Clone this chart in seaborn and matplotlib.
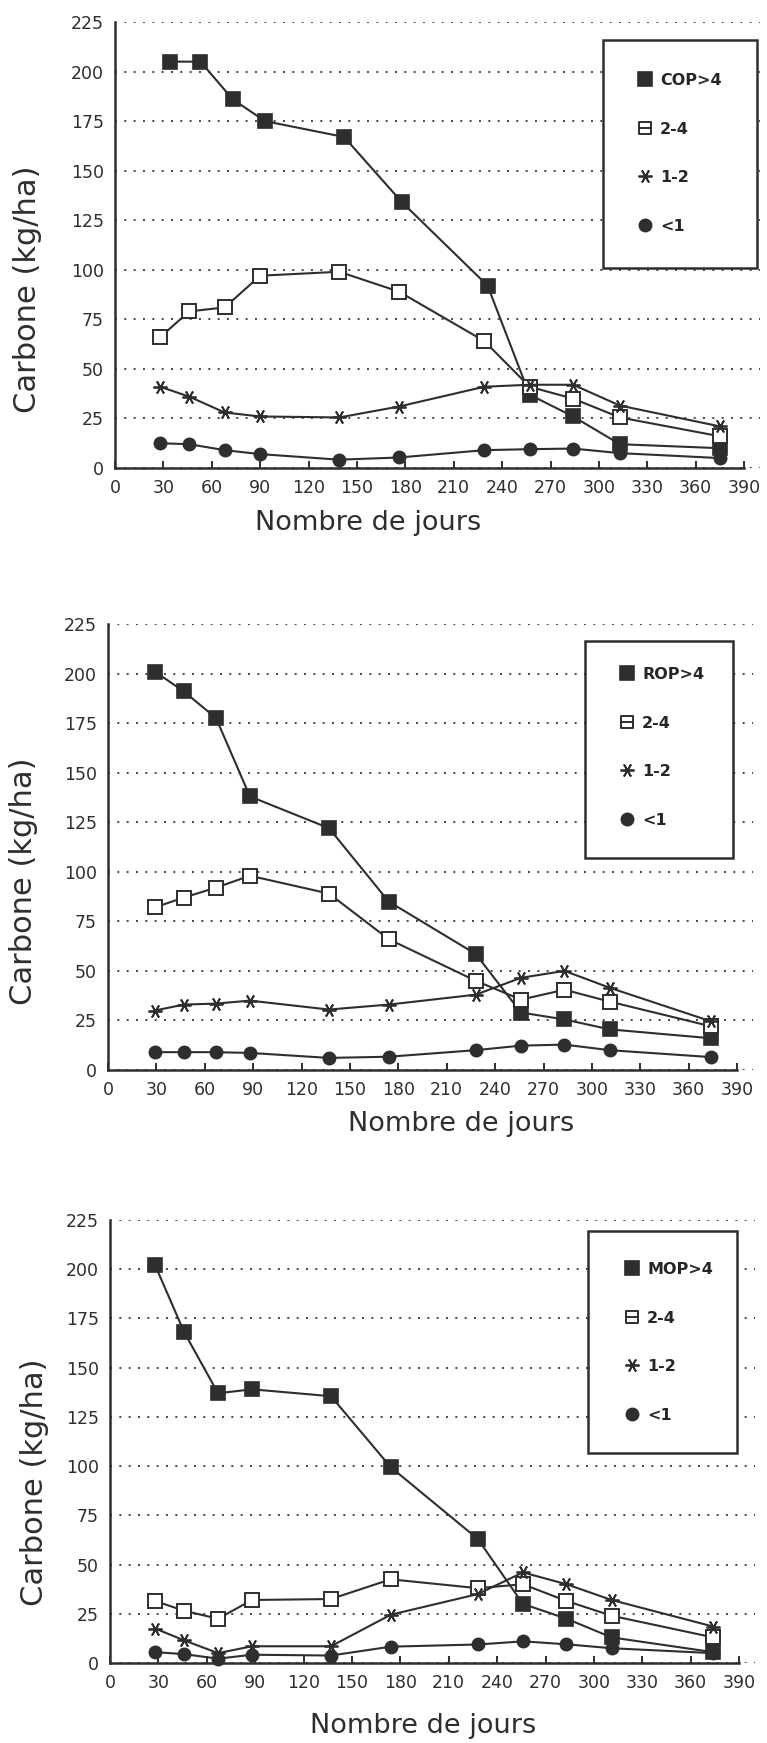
import matplotlib
matplotlib.use("Agg")
import matplotlib.pyplot as plt
import seaborn as sns
from matplotlib.lines import Line2D
from matplotlib.path import Path
from matplotlib.patches import Rectangle

# ---- data: carbon (kg/ha) by aggregate size class vs. number of days ----
days_cop = [28, 46, 68, 90, 139, 176, 229, 257, 284, 313, 375]
days_cop_gt4 = [34, 53, 73, 93, 142, 178, 231, 257, 284, 313, 375]
cop_gt4 = [205, 205, 186, 175, 167, 134, 92, 37, 26, 12, 10]
cop_2_4 = [66, 79, 81, 97, 99, 89, 64, 41, 35, 25.5, 16]
cop_1_2 = [41, 36, 28, 26, 25.5, 31, 41, 42, 42, 31.5, 21]
cop_lt1 = [12.5, 12, 9, 7, 4.2, 5.3, 9, 9.5, 9.8, 7.5, 5]

days_rop = [29, 47, 67, 88, 137, 174, 228, 256, 283, 311, 374]
rop_gt4 = [201, 191, 177.5, 138, 122, 85, 58.5, 29, 25.5, 20.5, 16]
rop_2_4 = [82, 87, 92, 98, 89, 66, 45, 35.5, 40.5, 34.5, 22]
rop_1_2 = [30, 33, 33.5, 35, 30.5, 33, 38, 46.5, 50, 41.5, 24.5]
rop_lt1 = [9, 9, 9, 8.6, 6.1, 6.7, 10, 12.3, 12.8, 10, 6.5]

days_mop = [28, 46, 67, 88, 137, 174, 228, 256, 283, 311, 374]
mop_gt4 = [202, 168, 137, 139, 135.5, 99.5, 63, 30, 22.5, 13, 5.5]
mop_2_4 = [31.5, 26.5, 22.5, 32, 32.5, 42.5, 38, 40, 31.5, 24, 13]
mop_1_2 = [17.5, 11.5, 5, 8.5, 8.5, 24.5, 35, 46, 40, 32, 18.5]
mop_lt1 = [5.5, 4.5, 2.2, 4.2, 3.8, 8.3, 9.4, 11, 9.5, 7.5, 5]

size_labels = ["2-4", "1-2", "<1"]
y_ticks = [0, 25, 50, 75, 100, 125, 150, 175, 200, 225]
x_ticks = [0, 30, 60, 90, 120, 150, 180, 210, 240, 270, 300, 330, 360, 390]
x_title = "Nombre de jours"
y_title = "Carbone (kg/ha)"

INK = "#2e2e2e"
W, H = 767, 1743
PX_PER_DAY = 1.613

sns.set_theme(style="ticks")
plt.rcParams["font.family"] = ["DejaVu Sans"]

fig = plt.figure(figsize=(W / 100, H / 100), dpi=100)

# square with a middle bar, used for the 2-4 legend key
boxbar = Path(
    [(-1, -1), (1, -1), (1, 1), (-1, 1), (-1, -1), (-1, 0), (1, 0)],
    [Path.MOVETO, Path.LINETO, Path.LINETO, Path.LINETO, Path.CLOSEPOLY,
     Path.MOVETO, Path.LINETO],
)

STYLES = [
    dict(marker="s", markersize=10, markerfacecolor=INK, markeredgecolor=INK, markeredgewidth=1.2),
    dict(marker="s", markersize=9.5, markerfacecolor="white", markeredgecolor=INK, markeredgewidth=1.4),
    dict(marker=(6, 2, 90), markersize=10, markerfacecolor="none", markeredgecolor=INK, markeredgewidth=1.3),
    dict(marker="o", markersize=9, markerfacecolor=INK, markeredgecolor=INK, markeredgewidth=1.0),
]


def px_axes(left, zero_y, top_y):
    """Axes whose x=0 sits at pixel `left`, y=0 at `zero_y` and y=225 at `top_y`."""
    width = PX_PER_DAY * 400
    return fig.add_axes([left / W, 1 - zero_y / H, width / W, (zero_y - top_y) / H])


def panel(ax, xs_list, series, labels, box, key_x, key_y, ylab_xy, xlab_xy):
    for xs, ys, st in zip(xs_list, series, STYLES):
        sns.lineplot(x=xs, y=ys, ax=ax, color=INK, linewidth=1.5, sort=False,
                     clip_on=False, zorder=3, legend=False, **st)
    ax.set_xlim(0, 400)
    ax.set_ylim(0, 225)
    ax.set_xticks(x_ticks)
    ax.set_yticks(y_ticks)
    ax.spines["bottom"].set_bounds(0, 390)
    for s in ("top", "right"):
        ax.spines[s].set_visible(False)
    for s in ("left", "bottom"):
        ax.spines[s].set_color(INK)
        ax.spines[s].set_linewidth(1.8)
    ax.tick_params(axis="x", direction="in", length=5, width=1.4, colors=INK,
                   labelsize=12.5, pad=8)
    ax.tick_params(axis="y", direction="in", length=0, colors=INK,
                   labelsize=12.5, pad=8)
    ax.yaxis.grid(True, linestyle=(0, (1, 3.8)), linewidth=1.4, color="#444444")
    ax.xaxis.grid(False)
    ax.set_xlabel(x_title, fontsize=19.5, color=INK)
    ax.set_ylabel(y_title, fontsize=22, color=INK)
    ax.yaxis.set_label_coords(*ylab_xy)
    ax.xaxis.set_label_coords(*xlab_xy)

    # legend frame
    x0, y0, x1, y1 = box
    fig.add_artist(Rectangle((x0 / W, 1 - y1 / H), (x1 - x0) / W, (y1 - y0) / H,
                             transform=fig.transFigure, facecolor="white",
                             edgecolor=INK, linewidth=1.8, zorder=4))
    handles = []
    for i, st in enumerate(STYLES):
        st = dict(st)
        if i == 1:
            st["marker"] = boxbar
            st["markersize"] = 9
        handles.append(Line2D([], [], linestyle="none", **st))
    fig.legend(handles, labels, loc="upper left",
               bbox_to_anchor=(key_x / W, 1 - key_y / H),
               frameon=False, handlelength=1.0, handletextpad=0.45,
               labelspacing=2.1, borderpad=0, borderaxespad=0,
               prop=dict(family=["Liberation Sans Narrow", "DejaVu Sans"],
                         size=11.5, weight="bold"))


ax1 = px_axes(115, 468, 22)
panel(ax1, [days_cop_gt4, days_cop, days_cop, days_cop],
      [cop_gt4, cop_2_4, cop_1_2, cop_lt1], ["COP>4"] + size_labels,
      (603, 40, 757, 268), 637, 73, (-0.113, 0.40), (0.392, -0.094))

ax2 = px_axes(108, 1070, 624)
panel(ax2, [days_rop] * 4, [rop_gt4, rop_2_4, rop_1_2, rop_lt1],
      ["ROP>4"] + size_labels,
      (585, 641, 733, 858), 619, 667, (-0.108, 0.424), (0.548, -0.092))

ax3 = px_axes(110, 1663, 1220)
panel(ax3, [days_mop] * 4, [mop_gt4, mop_2_4, mop_1_2, mop_lt1],
      ["MOP>4"] + size_labels,
      (588, 1231, 737, 1453), 624, 1262, (-0.094, 0.408), (0.486, -0.113))

fig.savefig("out.png", dpi=100, facecolor="white")
